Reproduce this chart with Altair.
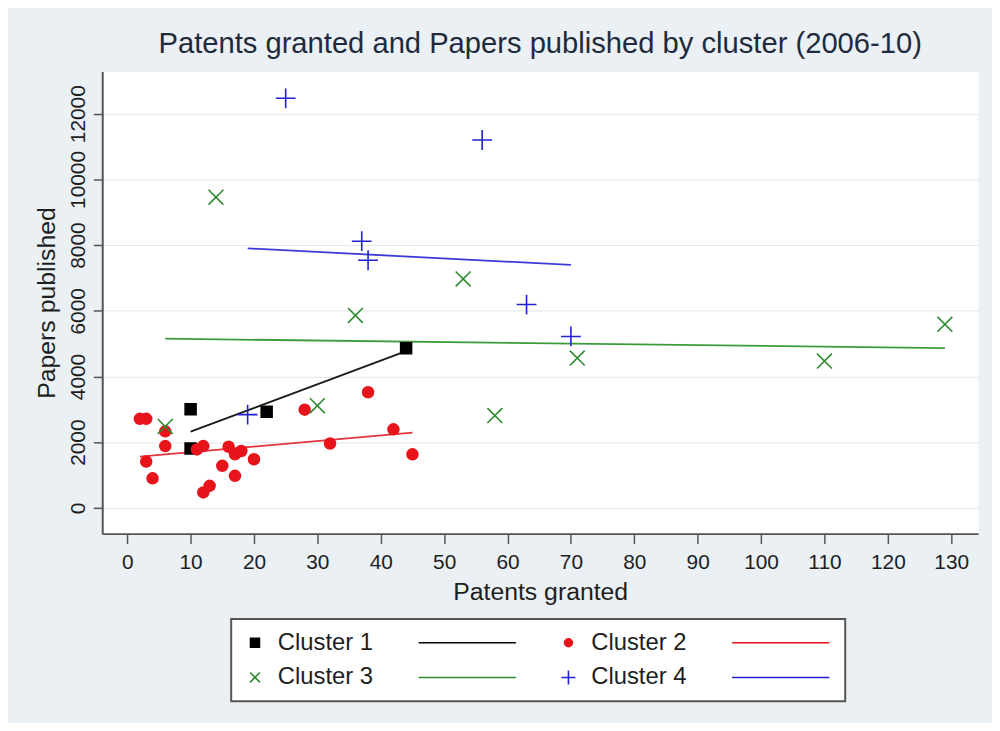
import altair as alt
import pandas as pd

CLUSTERS = ["Cluster 1", "Cluster 2", "Cluster 3", "Cluster 4"]

# Patents granted (x) and papers published (y)
c1_x = [10, 10, 22, 44]
c1_y = [3000, 1810, 2930, 4860]
c2_x = [2, 3, 6, 6, 3, 4, 11, 12, 12, 13, 16, 17, 18, 15, 17, 20, 28, 32, 38, 42, 45]
c2_y = [2710, 2710, 2330, 1880, 1410, 900, 1780, 1880, 470, 670, 1860, 1630, 1730,
        1280, 975, 1480, 2990, 1960, 3520, 2390, 1630]
c3_x = [14, 36, 53, 30, 6, 58, 71, 110, 129]
c3_y = [9460, 5860, 6970, 3110, 2480, 2810, 4560, 4470, 5590]
c4_x = [25, 56, 37, 38, 63, 70, 19]
c4_y = [12470, 11200, 8120, 7540, 6190, 5220, 2840]

x_ticks = list(range(0, 131, 10))
y_ticks = list(range(0, 12001, 2000))

rows = []
for name, xs, ys in zip(CLUSTERS, [c1_x, c2_x, c3_x, c4_x], [c1_y, c2_y, c3_y, c4_y]):
    for a, b in zip(xs, ys):
        rows.append({"cluster": name, "patents": a, "papers": b})
df = pd.DataFrame(rows)

marker_colors = ["#000000", "#e8141c", "#2d8a2d", "#2121d4"]
marker_fills = ["#000000", "#e8141c", "transparent", "transparent"]
line_colors = ["#1a1a1a", "#e2343c", "#3c9c3c", "#3b3bd9"]

# plot marker shapes (size 400 -> 10px per unit)
SQ = "M-0.55,-0.55H0.55V0.55H-0.55Z"
CI = "M0.55,0A0.55,0.55 0 1,1 -0.55,0A0.55,0.55 0 1,1 0.55,0Z"
XX = "M-0.75,-0.75L0.75,0.75M-0.75,0.75L0.75,-0.75"
PL = "M-1,0H1M0,-1V1"

# legend key shapes (size 100 -> 5px per unit): marker + fitted-line sample
LINE = "M33,0H52.6"
LSQ = "M-0.9,-0.9H0.9V0.9H-0.9Z" + LINE
LCI = "M0.8,0A0.8,0.8 0 1,1 -0.8,0A0.8,0.8 0 1,1 0.8,0Z" + LINE
LXX = "M-1,-1L1,1M-1,1L1,-1" + LINE
LPL = "M-1.4,0H1.4M0,-1.4V1.4" + LINE

FONT = "Liberation Sans"
TXT = "#1e1e1e"

xscale = alt.Scale(domain=[-3.94, 134.24], nice=False, zero=False)
yscale = alt.Scale(domain=[-785, 13290], nice=False, zero=False)

xaxis = alt.Axis(values=x_ticks, grid=False, title="Patents granted",
                 domainColor="#555555", domainWidth=2, tickColor="#555555",
                 tickSize=10, tickWidth=1.5, labelFont=FONT, labelFontSize=21,
                 labelColor=TXT, labelPadding=8, titleFont=FONT, titleFontSize=25,
                 titleFontWeight="normal", titleColor=TXT, titlePadding=7,
                 labelFlush=False, labelOverlap=False, format="d")
yaxis = alt.Axis(values=y_ticks, grid=True, gridColor="#e4ebee", gridWidth=1.2,
                 title="Papers published", domainColor="#555555", domainWidth=2,
                 tickColor="#555555", tickSize=9, tickWidth=1.5, labelFont=FONT,
                 labelFontSize=21, labelColor=TXT, labelAngle=270, labelAlign="center",
                 labelBaseline="bottom", labelPadding=5, titleFont=FONT,
                 titleFontSize=25, titleFontWeight="normal", titleColor=TXT,
                 titlePadding=8, labelFlush=False, labelOverlap=False, format="d")

base = alt.Chart(df)
xenc = alt.X("patents:Q", scale=xscale, axis=xaxis)
yenc = alt.Y("papers:Q", scale=yscale, axis=yaxis)

lines = base.transform_regression(
    "patents", "papers", groupby=["cluster"]
).mark_line(strokeWidth=1.8).encode(
    x=xenc, y=yenc,
    stroke=alt.Stroke("cluster:N", scale=alt.Scale(domain=CLUSTERS, range=line_colors), legend=None),
)

points = base.mark_point(opacity=1, strokeWidth=1.6, size=400).encode(
    x=xenc, y=yenc,
    shape=alt.Shape("cluster:N", scale=alt.Scale(domain=CLUSTERS, range=[SQ, CI, XX, PL]), legend=None),
    fill=alt.Fill("cluster:N", scale=alt.Scale(domain=CLUSTERS, range=marker_fills), legend=None),
    stroke=alt.Stroke("cluster:N", scale=alt.Scale(domain=CLUSTERS, range=marker_colors), legend=None),
)

leg = alt.Legend(title=None, orient="none", legendX=130, legendY=552, columns=2,
                 direction="horizontal",
                 columnPadding=37, rowPadding=11, padding=12, fillColor="white",
                 strokeColor="#555555", labelFont=FONT, labelFontSize=24,
                 labelColor=TXT, labelOffset=11, symbolSize=100,
                 symbolStrokeWidth=1.6, labelLimit=300)

legend_layer = base.transform_filter("false").mark_point(opacity=1, size=100, strokeWidth=1.6).encode(
    x=xenc, y=yenc,
    shape=alt.Shape("cluster:N", scale=alt.Scale(domain=CLUSTERS, range=[LSQ, LCI, LXX, LPL]), legend=leg),
    fill=alt.Fill("cluster:N", scale=alt.Scale(domain=CLUSTERS, range=marker_fills), legend=leg),
    stroke=alt.Stroke("cluster:N", scale=alt.Scale(domain=CLUSTERS, range=marker_colors), legend=leg),
)

chart = alt.layer(lines, points, legend_layer).resolve_scale(
    shape="independent", fill="independent", stroke="independent"
).properties(
    width=883, height=466,
    title=alt.TitleParams("Patents granted and Papers published by cluster (2006-10)",
                          font=FONT, fontSize=29.4, fontWeight="normal", color="#1f2b3d",
                          anchor="middle", frame="group", offset=12),
    autosize=alt.AutoSizeParams(type="none"),
    padding={"left": 95, "top": 61, "right": 14, "bottom": 188},
    background="#eaf0f3",
).configure_view(fill="white", stroke="transparent").configure_legend(strokeWidth=2)

chart.save("out.html", embed_options={"renderer": "svg", "actions": False})
